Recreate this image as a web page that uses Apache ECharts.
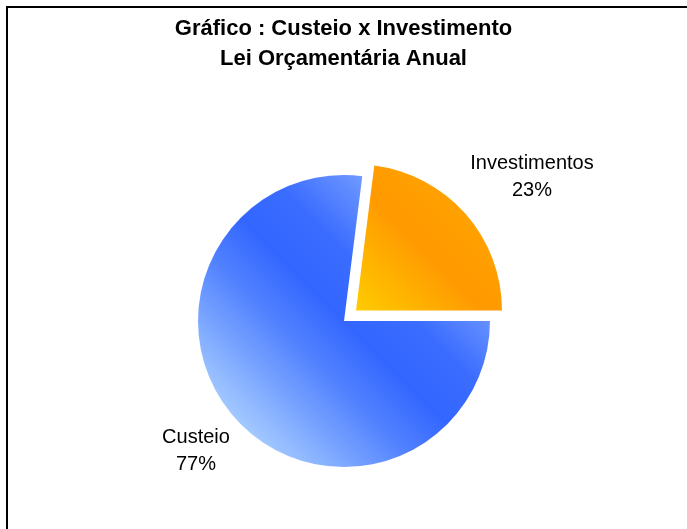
<!DOCTYPE html>
<html>
<head>
<meta charset="utf-8">
<script src="https://cdn.jsdelivr.net/npm/echarts@6/dist/echarts.min.js"></script>
<style>
html,body{margin:0;padding:0;background:#fff;}
#chart{width:687px;height:529px;}
</style>
</head>
<body>
<div id="chart"></div>
<script>
const categories = ['Custeio', 'Investimentos'];
const values = [77, 23];
const explodedIndex = 1;
const titleLines = ['Gráfico : Custeio x Investimento', 'Lei Orçamentária Anual'];

const sliceColors = [
  new echarts.graphic.LinearGradient(0, 1, 1, 0, [
    {offset: 0.15, color: '#a2c8ff'},
    {offset: 0.38, color: '#5282ff'},
    {offset: 0.5, color: '#3366ff'},
    {offset: 0.62, color: '#3a6cff'},
    {offset: 0.86, color: '#8cb0ff'}
  ]),
  new echarts.graphic.LinearGradient(0, 1, 1, 0, [
    {offset: 0, color: '#ffcc00'},
    {offset: 0.45, color: '#ff9900'},
    {offset: 1, color: '#ffab00'}
  ])
];
const labelPos = [[196, 451], [532, 177]];

const baseCenter = [344, 321];
const explodeDist = 16;
const total = values.reduce((a, b) => a + b, 0);
let before = 0;
for (let i = 0; i < explodedIndex; i++) before += values[i];
// startAngle 0 (3 o'clock), clockwise
const midAngle = -((before + values[explodedIndex] / 2) / total) * 2 * Math.PI;
const explodedCenter = [
  baseCenter[0] + explodeDist * Math.cos(midAngle),
  baseCenter[1] - explodeDist * Math.sin(midAngle)
];

function makeSeries(center, visibleIndex) {
  return {
    type: 'pie',
    center: center,
    radius: 146,
    startAngle: 0,
    clockwise: true,
    silent: true,
    emphasis: {disabled: true},
    itemStyle: {borderWidth: 0},
    label: {
      show: true,
      position: 'outside',
      formatter: '{b}\n{d}%',
      fontSize: 20,
      lineHeight: 27,
      color: '#000',
      fontFamily: 'Liberation Sans, Arial, sans-serif'
    },
    labelLine: {show: false},
    labelLayout: function (p) {
      const pos = labelPos[p.dataIndex];
      return {x: pos[0], y: pos[1], align: 'center', verticalAlign: 'middle'};
    },
    data: categories.map((c, i) => ({
      name: c,
      value: values[i],
      itemStyle: {color: sliceColors[i], opacity: visibleIndex(i) ? 1 : 0},
      label: {show: visibleIndex(i)}
    }))
  };
}

const chart = echarts.init(document.getElementById('chart'));
chart.setOption({
  backgroundColor: '#ffffff',
  animation: false,
  textStyle: {fontFamily: 'Liberation Sans, Arial, sans-serif'},
  title: {
    text: titleLines.join('\n'),
    left: 'center',
    top: 9,
    textStyle: {fontSize: 22, fontWeight: 'bold', color: '#000', lineHeight: 30, fontFamily: 'Liberation Sans, Arial, sans-serif'}
  },
  graphic: [{
    type: 'rect',
    shape: {x: 7, y: 7, width: 720, height: 560},
    style: {fill: 'none', stroke: '#000', lineWidth: 2},
    silent: true
  }],
  series: [
    makeSeries(baseCenter, i => i !== explodedIndex),
    makeSeries(explodedCenter, i => i === explodedIndex)
  ]
});
</script>
</body>
</html>
